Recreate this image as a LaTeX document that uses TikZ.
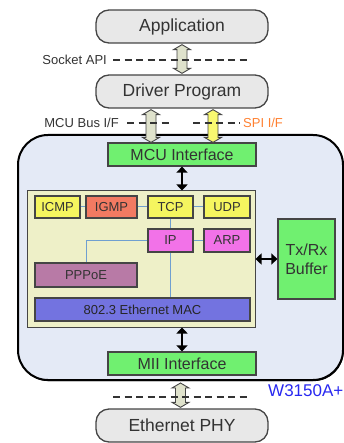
\documentclass[tikz,border=0pt]{standalone}
\usepackage{fontspec}
\setmainfont{Liberation Sans}
\usetikzlibrary{arrows.meta,calc}
\definecolor{txt}{HTML}{333333}
\definecolor{bord}{HTML}{454545}
\definecolor{graybox}{HTML}{E8E8E8}
\definecolor{bigfill}{HTML}{E4EAF6}
\definecolor{innerfill}{HTML}{EEF0C8}
\definecolor{grn}{HTML}{70F070}
\definecolor{ylw}{HTML}{F5F55F}
\definecolor{igmpc}{HTML}{F27A62}
\definecolor{ipc}{HTML}{F272E8}
\definecolor{pppc}{HTML}{B87AA6}
\definecolor{macc}{HTML}{7373E0}
\definecolor{linkc}{HTML}{6F9FD0}
\definecolor{harrowg}{HTML}{DFE2CC}
\definecolor{harrowy}{HTML}{F8F870}
\definecolor{spic}{HTML}{FF8030}
\definecolor{wblue}{HTML}{2828F0}
\newcommand\fatarrow[3][]{%
  \path[#1] let \p1=(#2), \p2=(#3) in
   (\x1,\y1) -- (\x1+8.5pt,\y1-5pt) -- (\x1+5pt,\y1-5pt) -- (\x1+5pt,\y2+5pt)
   -- (\x1+8.5pt,\y2+5pt) -- (\x1,\y2) -- (\x1-8.5pt,\y2+5pt) -- (\x1-5pt,\y2+5pt)
   -- (\x1-5pt,\y1-5pt) -- (\x1-8.5pt,\y1-5pt) -- cycle;}
\begin{document}
\begin{tikzpicture}[x=1pt,y=-1pt,
  every node/.style={text=txt, inner sep=0pt},
  gbox/.style={draw=bord, line width=1.3pt, rounded corners=13pt, fill=graybox,
    minimum width=172pt, minimum height=33pt, font=\fontsize{17.5}{20}\selectfont},
  pbox/.style={draw=bord, line width=1.1pt, minimum height=22pt, font=\fontsize{13}{15}\selectfont},
  ibox/.style={draw=bord, line width=1.2pt, fill=grn, font=\fontsize{16}{19}\selectfont},
  lbl/.style={font=\fontsize{13}{15}\selectfont},
  link/.style={draw=linkc, line width=1pt},
  dsh/.style={draw=txt, line width=1.3pt, dash pattern=on 7pt off 4.5pt},
  hollow/.style={draw=bord, line width=0.9pt, fill=harrowg},
  blk/.style={line width=2.6pt, {Triangle[width=11pt,length=6pt]}-{Triangle[width=11pt,length=6pt]}}
]
\useasboundingbox (0,0) rectangle (344,443);

% top-level boxes
\node[gbox] (app) at (182,26.5) {Application};
\node[gbox] (drv) at (182,91.5) {Driver Program};
\node[gbox] (phy) at (182,425.5) {Ethernet PHY};

% chip
\node[fill=black, rounded corners=30pt, minimum width=325pt, minimum height=245pt] (shadow) at (181.2,258.6) {};
\node[draw=black, line width=2pt, rounded corners=30pt, fill=bigfill,
  minimum width=325pt, minimum height=245pt] (chip) at (180.5,257.5) {};
\node[anchor=base west, text=wblue, font=\fontsize{17}{20}\selectfont] (chipname) at (268,396) {W3150A+};

\node[ibox, minimum width=148pt, minimum height=23pt] (mcu) at (182,154.5) {MCU Interface};
\node[ibox, minimum width=148pt, minimum height=23pt] (mii) at (182,363.5) {MII Interface};
\node[draw=bord, line width=1pt, fill=innerfill, minimum width=228pt, minimum height=136pt] (stack) at (141,259) {};
\node[ibox, minimum width=57pt, minimum height=80pt, align=center] (buf) at (306.5,259) {Tx/Rx\\Buffer};

% protocol boxes
\node[pbox, fill=ylw, minimum width=45pt] (icmp) at (57.5,207) {ICMP};
\node[pbox, fill=igmpc, minimum width=51pt] (igmp) at (111.5,207) {IGMP};
\node[pbox, fill=ylw, minimum width=45pt] (tcp) at (170.5,207) {TCP};
\node[pbox, fill=ylw, minimum width=46pt] (udp) at (227,207) {UDP};
\node[pbox, fill=ipc, minimum width=45pt, minimum height=23pt] (ip) at (170.5,240.5) {IP};
\node[pbox, fill=ipc, minimum width=46pt, minimum height=23pt] (arp) at (227,240.5) {ARP};
\node[pbox, fill=pppc, minimum width=102pt, minimum height=24pt] (pppoe) at (86,275) {PPPoE};
\node[pbox, fill=macc, minimum width=215pt, minimum height=23pt, text=black!85] (mac) at (142.5,309.5) {802.3 Ethernet MAC};

% links
\draw[link] (icmp.east) -- (igmp.west);
\draw[link] (igmp.east) -- (tcp.west);
\draw[link] (tcp.east) -- (udp.west);
\draw[link] (tcp.south) -- (ip.north);
\draw[link] (ip.east) -- (arp.west);
\draw[link] (ip.west) -| (pppoe.north);
\draw[link] (ip.south) -- (ip.south |- mac.north);

% black arrows
\draw[blk] (mcu.south) -- (mcu.south |- stack.north);
\draw[blk] (mii.north |- stack.south) -- (mii.north);
\draw[blk] (stack.east) -- (buf.west);

% hollow arrows
\fatarrow[hollow]{$(app.south)+(0,1)$}{$(drv.north)+(0,-1)$}
\fatarrow[hollow]{$(drv.south)+(-31,1)$}{$(mcu.north)+(-31,0)$}
\fatarrow[hollow, fill=harrowy]{$(drv.south)+(31,1)$}{$(mcu.north)+(31,0)$}
\fatarrow[hollow]{$(chip.south)+(0,2)$}{$(phy.north)+(0,-1)$}

% labels and dashed lines
\node[lbl, anchor=east] (sock) at (107,60) {Socket API};
\draw[dsh] (113,60) -- (248,60);
\node[lbl, anchor=east] (mcubus) at (119,123) {MCU Bus I/F};
\draw[dsh] (127,123) -- (170,123);
\draw[dsh] (193,123) -- (240,123);
\node[lbl, anchor=west, text=spic] (spi) at (243,123) {SPI I/F};
\draw[dsh] (113,397) -- (248,397);
\end{tikzpicture}
\end{document}
